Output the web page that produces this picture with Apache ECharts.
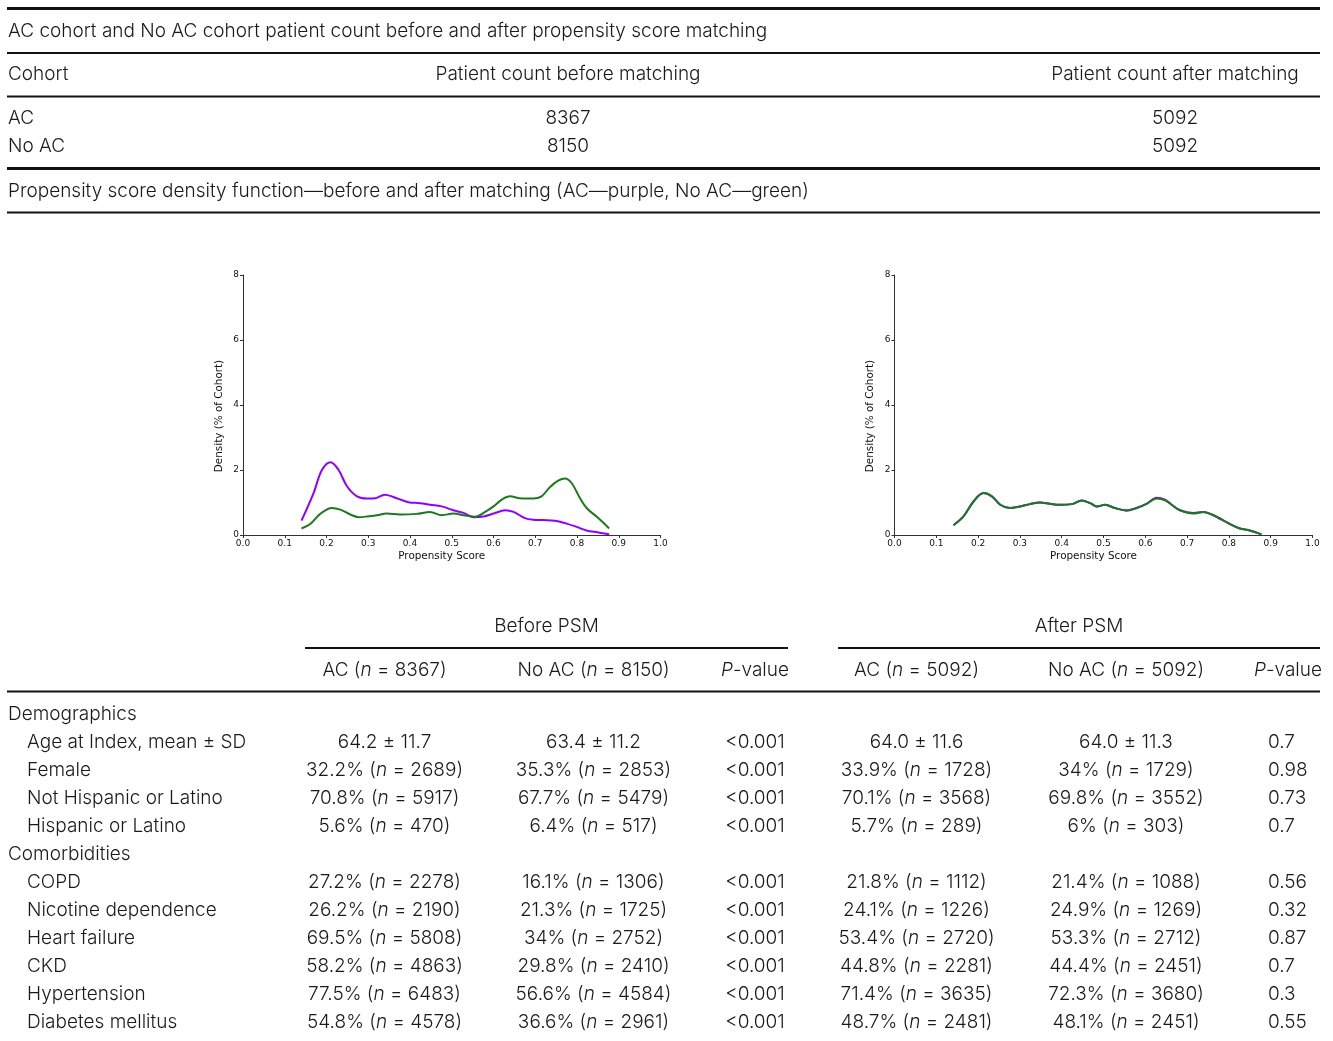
<!DOCTYPE html>
<html><head><meta charset="utf-8">
<script src="https://cdn.jsdelivr.net/npm/echarts@6/dist/echarts.min.js"></script>
<style>html,body{margin:0;background:#fff}#c{width:1333px;height:1041px}</style></head>
<body><div id="c"></div>
<script>
// ---- Patient counts ----
const countTitle = 'AC cohort and No AC cohort patient count before and after propensity score matching';
const countHeaders = ['Cohort', 'Patient count before matching', 'Patient count after matching'];
const cohorts = ['AC', 'No AC'];
const countBefore = [8367, 8150];
const countAfter = [5092, 5092];
const densityCaption = 'Propensity score density function\u2014before and after matching (AC\u2014purple, No AC\u2014green)';

// ---- Propensity score density (% of cohort) ----
const acBeforeX = [0.14,0.169,0.189,0.21,0.229,0.249,0.273,0.297,0.317,0.34,0.36,0.396,0.424,0.448,0.476,0.504,0.528,0.552,0.576,0.6,0.628,0.648,0.675,0.695,0.719,0.747,0.775,0.799,0.823,0.851,0.877];
const acBeforeY = [0.44,1.29,2.0,2.24,2.0,1.5,1.19,1.12,1.13,1.24,1.17,1.01,0.98,0.93,0.88,0.76,0.68,0.55,0.57,0.66,0.76,0.71,0.52,0.47,0.46,0.44,0.35,0.25,0.14,0.08,0.02];
const noAcBeforeX = [0.14,0.161,0.185,0.213,0.233,0.257,0.277,0.297,0.321,0.344,0.376,0.416,0.448,0.476,0.504,0.528,0.556,0.58,0.6,0.62,0.64,0.663,0.695,0.715,0.735,0.755,0.771,0.787,0.807,0.823,0.851,0.877];
const noAcBeforeY = [0.2,0.34,0.65,0.83,0.78,0.63,0.55,0.57,0.61,0.66,0.63,0.65,0.71,0.61,0.66,0.61,0.56,0.71,0.88,1.09,1.19,1.13,1.12,1.19,1.47,1.67,1.74,1.6,1.14,0.83,0.52,0.2];
const afterX = [0.141,0.165,0.189,0.213,0.233,0.253,0.276,0.3,0.324,0.348,0.372,0.396,0.424,0.448,0.468,0.484,0.504,0.527,0.555,0.579,0.603,0.627,0.647,0.663,0.683,0.715,0.739,0.759,0.778,0.802,0.826,0.85,0.878];
const acAfterY = [0.3,0.57,1.03,1.29,1.19,0.93,0.83,0.88,0.95,1.0,0.96,0.93,0.95,1.06,0.98,0.88,0.93,0.83,0.75,0.83,0.96,1.15,1.09,0.93,0.76,0.68,0.71,0.63,0.5,0.34,0.2,0.14,0.02];
const noAcAfterY = [0.3,0.57,1.03,1.29,1.19,0.93,0.83,0.88,0.95,1.0,0.96,0.93,0.95,1.06,0.98,0.88,0.93,0.83,0.76,0.83,0.96,1.12,1.07,0.93,0.76,0.66,0.71,0.63,0.52,0.34,0.2,0.14,0.02];
const xTicks = [0, 0.1, 0.2, 0.3, 0.4, 0.5, 0.6, 0.7, 0.8, 0.9, 1.0];
const yTicks = [0, 2, 4, 6, 8];

// ---- Baseline characteristics ----
const psmGroups = ['Before PSM', 'After PSM'];
const armN = { acBefore: 8367, noAcBefore: 8150, acAfter: 5092, noAcAfter: 5092 };
const sections = ['Demographics', 'Comorbidities'];
const rowLabels = ['Age at Index, mean \u00b1 SD', 'Female', 'Not Hispanic or Latino', 'Hispanic or Latino',
  'COPD', 'Nicotine dependence', 'Heart failure', 'CKD', 'Hypertension', 'Diabetes mellitus'];
const rowSection = [0, 0, 0, 0, 1, 1, 1, 1, 1, 1];
const ageMean = [64.2, 63.4, 64.0, 64.0];
const ageSd = [11.7, 11.2, 11.6, 11.3];
const acBeforePct = [null, 32.2, 70.8, 5.6, 27.2, 26.2, 69.5, 58.2, 77.5, 54.8];
const acBeforeN = [null, 2689, 5917, 470, 2278, 2190, 5808, 4863, 6483, 4578];
const noAcBeforePct = [null, 35.3, 67.7, 6.4, 16.1, 21.3, 34, 29.8, 56.6, 36.6];
const noAcBeforeN = [null, 2853, 5479, 517, 1306, 1725, 2752, 2410, 4584, 2961];
const pBefore = ['<0.001', '<0.001', '<0.001', '<0.001', '<0.001', '<0.001', '<0.001', '<0.001', '<0.001', '<0.001'];
const acAfterPct = [null, 33.9, 70.1, 5.7, 21.8, 24.1, 53.4, 44.8, 71.4, 48.7];
const acAfterN = [null, 1728, 3568, 289, 1112, 1226, 2720, 2281, 3635, 2481];
const noAcAfterPct = [null, 34, 69.8, 6, 21.4, 24.9, 53.3, 44.4, 72.3, 48.1];
const noAcAfterN = [null, 1729, 3552, 303, 1088, 1269, 2712, 2451, 3680, 2451];
const pAfter = ['0.7', '0.98', '0.73', '0.7', '0.56', '0.32', '0.87', '0.7', '0.3', '0.55'];

// ---- drawing ----
const FONT = 'Inter';
const FS = 19;
const INK = '#1a1a1a';
const RULE = '#111';
const italic = { fontStyle: 'italic', fontFamily: FONT, fontSize: FS, fontWeight: 300, fill: INK };
const els = [];

function txt(x, y, s, align) {
  els.push({
    type: 'text', x: x, y: y + 1, silent: true,
    style: { text: s, fontFamily: FONT, fontSize: FS, fontWeight: 300, fill: INK,
      align: align || 'left', verticalAlign: 'middle', rich: { i: italic } }
  });
}
function rule(x1, x2, y, w) {
  els.push({ type: 'line', silent: true, shape: { x1: x1, y1: y, x2: x2, y2: y },
    style: { stroke: RULE, lineWidth: w } });
}
const cell = (pct, n) => pct + '% ({i|n} = ' + n + ')';
const armHead = (name, n) => name + ' ({i|n} = ' + n + ')';

// count table
rule(7, 1320, 8.5, 3);
txt(8, 30, countTitle);
rule(7, 1320, 53, 2);
txt(8, 73, countHeaders[0]);
txt(568, 73, countHeaders[1], 'center');
txt(1175, 73, countHeaders[2], 'center');
rule(7, 1320, 96.5, 2);
cohorts.forEach((c, i) => {
  const y = 117 + i * 28;
  txt(8, y, c);
  txt(568, y, String(countBefore[i]), 'center');
  txt(1175, y, String(countAfter[i]), 'center');
});
rule(7, 1320, 168.5, 3);
txt(8, 190, densityCaption);
rule(7, 1320, 212.5, 2);

// characteristics table
const colX = [384.5, 593.5, 755, 916.5, 1126, 1288];
txt(546.5, 625, psmGroups[0], 'center');
txt(1079, 625, psmGroups[1], 'center');
rule(305, 788, 648, 2);
rule(838, 1320, 648, 2);
txt(colX[0], 669, armHead('AC', armN.acBefore), 'center');
txt(colX[1], 669, armHead('No AC', armN.noAcBefore), 'center');
txt(colX[2], 669, '{i|P}-value', 'center');
txt(colX[3], 669, armHead('AC', armN.acAfter), 'center');
txt(colX[4], 669, armHead('No AC', armN.noAcAfter), 'center');
txt(colX[5], 669, '{i|P}-value', 'center');
rule(7, 1320, 691.5, 2);

let y = 713;
let lastSection = -1;
rowLabels.forEach((label, r) => {
  if (rowSection[r] !== lastSection) {
    lastSection = rowSection[r];
    txt(8, y, sections[lastSection]);
    y += 28;
  }
  txt(27, y, label);
  if (r === 0) {
    for (let k = 0; k < 2; k++) txt(colX[k], y, ageMean[k].toFixed(1) + ' \u00b1 ' + ageSd[k].toFixed(1), 'center');
    for (let k = 2; k < 4; k++) txt(colX[k + 1], y, ageMean[k].toFixed(1) + ' \u00b1 ' + ageSd[k].toFixed(1), 'center');
  } else {
    txt(colX[0], y, cell(acBeforePct[r], acBeforeN[r]), 'center');
    txt(colX[1], y, cell(noAcBeforePct[r], noAcBeforeN[r]), 'center');
    txt(colX[3], y, cell(acAfterPct[r], acAfterN[r]), 'center');
    txt(colX[4], y, cell(noAcAfterPct[r], noAcAfterN[r]), 'center');
  }
  txt(colX[2], y, pBefore[r], 'center');
  txt(1268, y, pAfter[r], 'left');
  y += 28;
});

// density plots
const pairs = (xs, ys) => xs.map((x, i) => [x, ys[i]]);
const PURPLE = '#8f00ff';
const GREEN = '#1b7a1b';
const AX = '#333';
const axisFont = { fontFamily: 'DejaVu Sans', fontSize: 9, color: '#111' };
const nameFont = { fontFamily: 'DejaVu Sans', fontSize: 10.4, color: '#111' };

function xAxisFor(g) {
  return {
    type: 'value', gridIndex: g, min: xTicks[0], max: xTicks[xTicks.length - 1], interval: 0.1,
    name: 'Propensity Score', nameLocation: 'middle', nameGap: 16,
    nameTextStyle: Object.assign({ padding: [0, 20, 0, 0] }, nameFont),
    axisLine: { lineStyle: { color: AX, width: 1 } },
    axisTick: { show: true, inside: false, length: 3, lineStyle: { color: AX } },
    axisLabel: Object.assign({ margin: 4, formatter: v => v.toFixed(1) }, axisFont),
    splitLine: { show: false }
  };
}
function yAxisFor(g) {
  return {
    type: 'value', gridIndex: g, min: yTicks[0], max: yTicks[yTicks.length - 1], interval: 2,
    name: 'Density (% of Cohort)', nameLocation: 'middle', nameGap: 19,
    nameTextStyle: Object.assign({ padding: [0, 22, 0, 0] }, nameFont),
    axisLine: { show: true, lineStyle: { color: AX, width: 1 } },
    axisTick: { show: true, inside: false, length: 3, lineStyle: { color: AX } },
    axisLabel: Object.assign({ margin: 4 }, axisFont),
    splitLine: { show: false }
  };
}
function curve(g, data, color) {
  return {
    type: 'line', xAxisIndex: g, yAxisIndex: g, data: data, smooth: 0.35,
    showSymbol: false, symbol: 'none', silent: true, animation: false,
    lineStyle: { color: color, width: 2 }
  };
}

const chart = echarts.init(document.getElementById('c'), null, { renderer: 'canvas' });
chart.setOption({
  animation: false,
  backgroundColor: '#fff',
  grid: [
    { left: 243, right: 672.5, top: 275, bottom: 506 },
    { left: 894.5, right: 20.5, top: 275, bottom: 506 }
  ],
  xAxis: [xAxisFor(0), xAxisFor(1)],
  yAxis: [yAxisFor(0), yAxisFor(1)],
  series: [
    curve(0, pairs(acBeforeX, acBeforeY), PURPLE),
    curve(0, pairs(noAcBeforeX, noAcBeforeY), GREEN),
    curve(1, pairs(afterX, acAfterY), PURPLE),
    curve(1, pairs(afterX, noAcAfterY), GREEN)
  ],
  graphic: els
});
</script></body></html>
